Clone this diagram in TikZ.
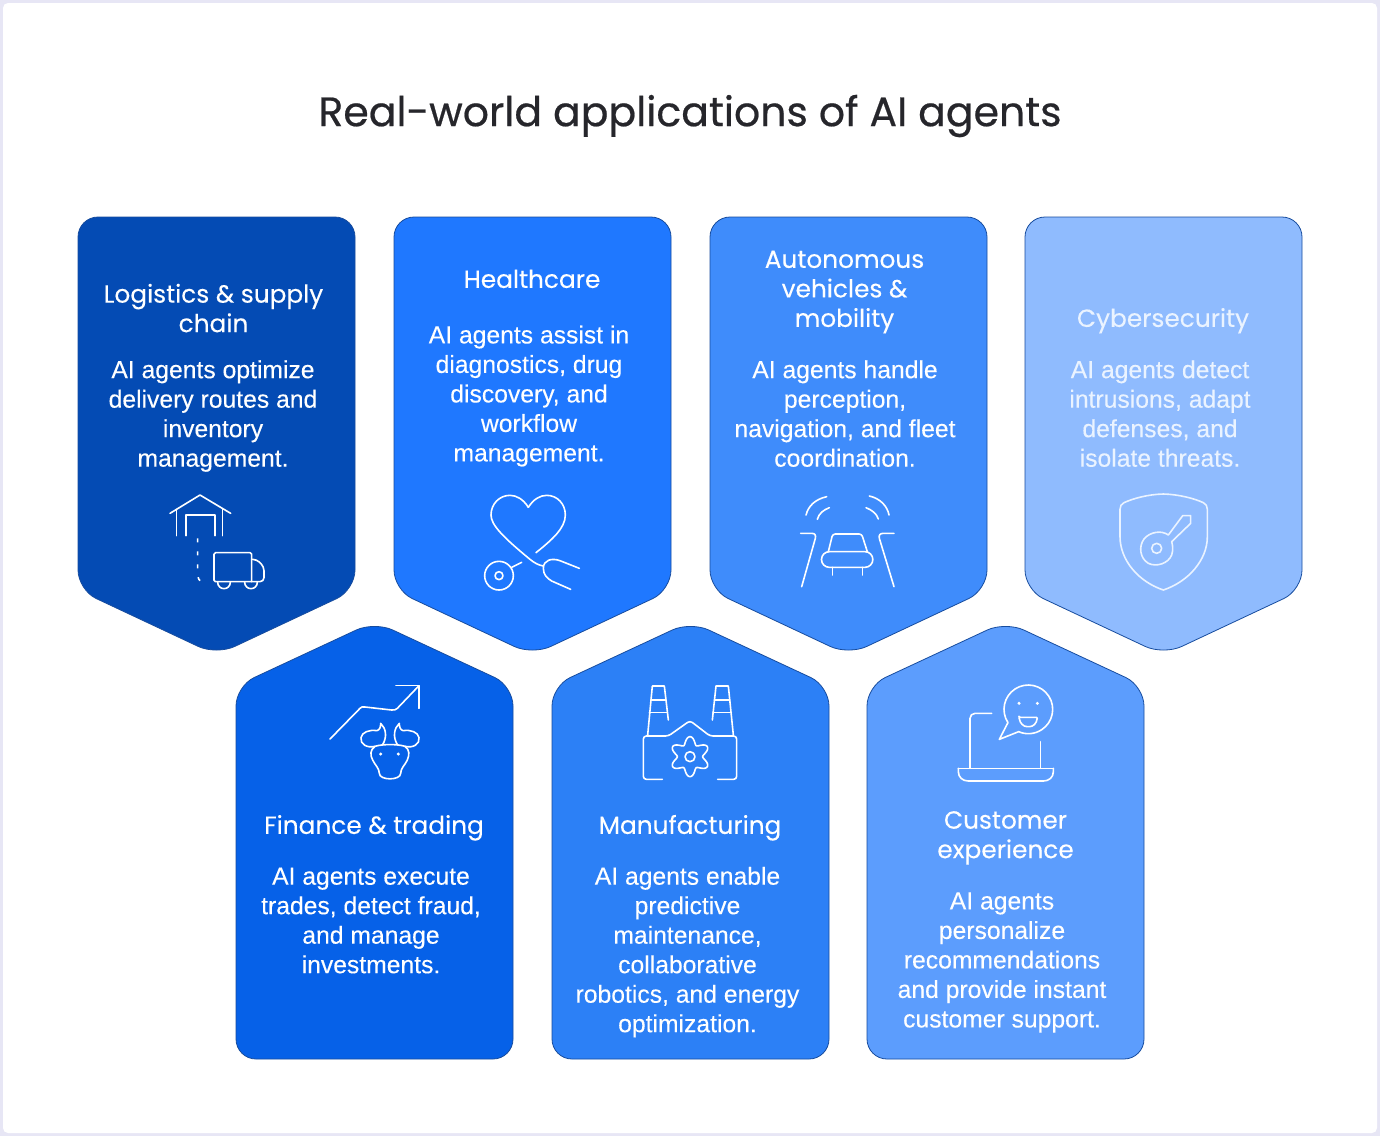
\documentclass[tikz,border=0pt]{standalone}
\usepackage{fontspec}
\setmainfont[FakeBold=0.2]{Liberation Sans}
\newfontfamily\popp[FakeBold=0.2]{Poppins}
\newfontfamily\poppT[FakeBold=0.5]{Poppins}
\definecolor{frameC}{HTML}{E7E6F5}
\definecolor{titleC}{HTML}{26262B}
\definecolor{edgeC}{HTML}{174C9E}
\definecolor{cA}{HTML}{044BB4}
\definecolor{cB}{HTML}{1F78FF}
\definecolor{cC}{HTML}{3F8CFB}
\definecolor{cD}{HTML}{8FBBFE}
\definecolor{cE}{HTML}{0661E8}
\definecolor{cF}{HTML}{2C80F6}
\definecolor{cG}{HTML}{5C9DFD}
\definecolor{softW}{HTML}{EAF3FF}
\newcommand{\downcard}[2]{\path[cardshape,fill=#2] (#1,217) -- (#1+277,217) -- (#1+277,590) -- (#1+138.5,655) -- (#1,590) -- cycle;}
\newcommand{\upcard}[2]{\path[cardshape,fill=#2] (#1,1059) -- (#1+277,1059) -- (#1+277,686) -- (#1+138.5,621.5) -- (#1,686) -- cycle;}
\tikzset{
  cardshape/.style={draw=edgeC,line width=0.8pt,rounded corners=20pt},
  headtext/.style={text=white,align=center,inner sep=0pt,font=\popp\fontsize{24.8}{29.5}\selectfont},
  bodytext/.style={text=white,align=center,inner sep=0pt,font=\fontsize{24.7}{29.5}\selectfont},
  icon/.style={draw=white,line width=1.6pt,line cap=round,line join=round},
  softicon/.style={draw=softW,line width=1.6pt,line cap=round,line join=round},
  iconbox/.style={scale=0.33333},
}
\begin{document}
\begin{tikzpicture}[x=1pt,y=-1pt]
\useasboundingbox (0,0) rectangle (1380,1136);
\fill[frameC] (0,0) rectangle (1380,1136);
\fill[white,rounded corners=5pt] (3,3) rectangle (1377,1133);
\node[text=titleC,inner sep=0pt,font=\poppT\fontsize{41}{47}\selectfont] (title) at (690,116) {Real-world applications of AI agents};

\downcard{78}{cA}
\downcard{394}{cB}
\downcard{710}{cC}
\downcard{1025}{cD}
\upcard{236}{cE}
\upcard{552}{cF}
\upcard{867}{cG}

\node[headtext] (h1) at (213.5,311.5) {\strut Logistics \& supply\\chain\strut};
\node[bodytext] (b1) at (213,416.5) {\strut AI agents optimize\\delivery routes and\\inventory\\management.\strut};
\node[headtext] (h2) at (532,282) {\strut Healthcare\strut};
\node[bodytext] (b2) at (529,396.5) {\strut AI agents assist in\\diagnostics, drug\\discovery, and\\workflow\\management.\strut};
\node[headtext] (h3) at (844.5,291.5) {\strut Autonomous\\vehicles \&\\mobility\strut};
\node[bodytext] (b3) at (845,416.5) {\strut AI agents handle\\perception,\\navigation, and fleet\\coordination.\strut};
\node[headtext,text=softW] (h4) at (1163,321) {\strut Cybersecurity\strut};
\node[bodytext,text=softW] (b4) at (1160,416.5) {\strut AI agents detect\\intrusions, adapt\\defenses, and\\isolate threats.\strut};
\node[headtext] (h5) at (374,828) {\strut Finance \& trading\strut};
\node[bodytext] (b5) at (371,923) {\strut AI agents execute\\trades, detect fraud,\\and manage\\investments.\strut};
\node[headtext] (h6) at (690,828) {\strut Manufacturing\strut};
\node[bodytext] (b6) at (687.5,952.5) {\strut AI agents enable\\predictive\\maintenance,\\collaborative\\robotics, and energy\\optimization.\strut};
\node[headtext] (h7) at (1005.5,837.5) {\strut Customer\\experience\strut};
\node[bodytext] (b7) at (1002,962.5) {\strut AI agents\\personalize\\recommendations\\and provide instant\\customer support.\strut};

% warehouse and truck
\begin{scope}[shift={(60,470)},iconbox,icon]
\draw (330,130) -- (420,75) -- (512,130);
\draw (350,118) -- (350,197);
\draw (488,118) -- (488,197);
\draw (378,197) -- (378,135) -- (465,135) -- (465,197);
\draw[dash pattern=on 4pt off 9pt,line cap=butt] (413,205) -- (413,318) .. controls (413,325) and (418,332) .. (428,336);
\draw[rounded corners=1.5pt] (575,335) -- (462,335) -- (462,248) -- (575,248) -- (575,335);
\draw[rounded corners=4pt] (575,268) -- (590,268) -- (612,290) -- (612,335) -- (575,335);
\draw (473,337) arc[start angle=180,end angle=0,radius=19];
\draw (554,337) arc[start angle=180,end angle=0,radius=19];
\end{scope}

% heart and stethoscope
\begin{scope}[shift={(460,480)},iconbox,icon]
\draw (205,82) .. controls (190,58) and (170,46) .. (150,46) .. controls (118,46) and (93,72) .. (93,105) .. controls (93,135) and (130,172) .. (210,238) .. controls (225,250) and (235,255) .. (250,258);
\draw (205,82) .. controls (220,58) and (240,46) .. (260,46) .. controls (292,46) and (316,72) .. (316,105) .. controls (316,145) and (275,180) .. (228,218);
\draw (117,287) circle[radius=43];
\draw (117,287) circle[radius=12];
\draw (155,262) -- (185,247);
\draw (358,265) -- (300,242) .. controls (275,233) and (250,240) .. (250,265) .. controls (250,285) and (262,295) .. (275,303) -- (332,328);
\end{scope}

% car on a road
\begin{scope}[shift={(780,480)},iconbox,icon]
\draw (62,160) -- (95,160) .. controls (105,160) and (108,165) .. (106,175) -- (65,320);
\draw (342,160) -- (310,160) .. controls (300,160) and (296,165) .. (298,175) -- (342,320);
\draw[rounded corners=2.5pt] (145,215) -- (158,162) -- (245,162) -- (262,215);
\draw (148,215) -- (255,215) arc[start angle=-90,end angle=90,radius=23.5] -- (148,262) arc[start angle=90,end angle=270,radius=23.5];
\draw (158,262) -- (158,285);
\draw (247,262) -- (247,285);
\draw (78,105) .. controls (85,78) and (105,58) .. (140,50);
\draw (112,118) .. controls (117,100) and (130,90) .. (148,83);
\draw (268,48) .. controls (300,55) and (322,78) .. (327,105);
\draw (258,83) .. controls (275,90) and (290,100) .. (295,117);
\end{scope}

% shield and key
\begin{scope}[shift={(1100,480)},iconbox,softicon]
\draw (190,42) .. controls (145,43) and (100,55) .. (72,68) .. controls (64,72) and (60,78) .. (60,88) -- (60,170) .. controls (60,240) and (115,305) .. (190,330) .. controls (265,305) and (322,240) .. (322,170) -- (322,88) .. controls (322,78) and (318,72) .. (310,68) .. controls (282,55) and (235,43) .. (190,42) -- cycle;
\draw (170,205) circle[radius=15];
\draw (205,165) .. controls (185,150) and (150,155) .. (132,177) .. controls (115,200) and (120,235) .. (145,250) .. controls (170,262) and (205,250) .. (215,225) .. controls (220,210) and (218,195) .. (215,185) -- (272,130) -- (272,107) -- (248,107) -- (205,165);
\end{scope}

% chart and bull
\begin{scope}[shift={(310,670)},iconbox,icon]
\draw (60,207) -- (150,115) .. controls (154,110) and (158,110) .. (165,111) -- (245,120) .. controls (252,121) and (258,119) .. (262,115) -- (327,47);
\draw (258,47) -- (327,47) -- (327,115);
\draw (195,229) .. controls (170,235) and (150,222) .. (153,203) .. controls (155,187) and (178,178) .. (200,182) .. controls (210,180) and (212,170) .. (212,160) .. controls (228,175) and (232,200) .. (218,224);
\draw (262,224) .. controls (248,200) and (252,175) .. (268,160) .. controls (268,170) and (270,180) .. (280,182) .. controls (302,178) and (325,187) .. (327,203) .. controls (330,222) and (310,235) .. (285,229);
\draw (195,229) .. controls (215,222) and (265,222) .. (285,229) .. controls (300,240) and (298,255) .. (292,270) .. controls (285,285) and (272,295) .. (272,310) .. controls (272,332) and (208,332) .. (208,310) .. controls (208,295) and (195,285) .. (188,270) .. controls (180,255) and (180,240) .. (195,229);
\fill[white] (212,252) circle[radius=5];
\fill[white] (265,252) circle[radius=5];
\end{scope}

% factory with gear
\begin{scope}[shift={(625,670)},iconbox,icon]
\draw (68,195) -- (82,48) -- (118,48) -- (130,150);
\draw (78,90) -- (122,90);
\draw (73,128) -- (127,128);
\draw (262,150) -- (273,48) -- (310,48) -- (325,195);
\draw (268,90) -- (314,90);
\draw (264,128) -- (319,128);
\draw[rounded corners=3pt] (112,328) -- (55,328) -- (55,198) -- (130,198) -- (195,152) -- (255,198) -- (335,198) -- (335,328) -- (278,328);
\draw plot[domain=0:360,samples=145,smooth] ({195+(49-11*cos(6*\x))*cos(\x)},{260+(49-11*cos(6*\x))*sin(\x)}) -- cycle;
\draw (195,260) circle[radius=15];
\end{scope}

% laptop with chat bubble
\begin{scope}[shift={(940,670)},iconbox,icon]
\draw[rounded corners=5pt] (155,130) -- (90,130) -- (90,295);
\draw (302,215) -- (302,295);
\draw (55,295) -- (340,295);
\draw (55,295) -- (55,305) .. controls (55,322) and (68,333) .. (85,333) -- (310,333) .. controls (327,333) and (340,322) .. (340,305) -- (340,295);
\draw (203.8,157.8) arc[start angle=147,end angle=473.5,radius=73] -- (178,208) -- cycle;
\fill[white] (237,100) circle[radius=5];
\fill[white] (292,100) circle[radius=5];
\draw[rounded corners=1pt] (237,142) -- (292,142) .. controls (290,160) and (280,170) .. (265,170) .. controls (250,170) and (240,160) .. (237,142) -- cycle;
\end{scope}
\end{tikzpicture}
\end{document}
